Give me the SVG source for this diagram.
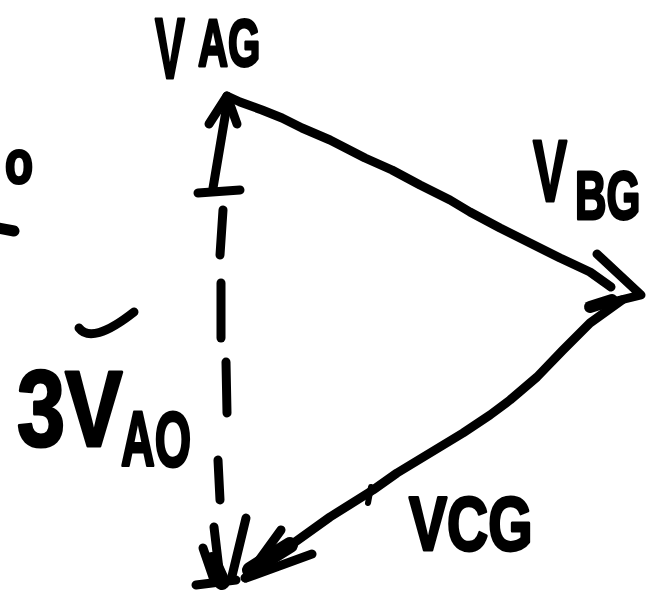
<svg xmlns="http://www.w3.org/2000/svg" width="660" height="597" viewBox="0 0 660 597">
<style>
.ln{fill:none;stroke:#000;stroke-width:9;stroke-linecap:round;stroke-linejoin:round}
.lb{font-family:"Liberation Sans",Arial,sans-serif;font-weight:bold;fill:#000;stroke:#000;stroke-width:3;stroke-linejoin:round}
</style>
<rect width="660" height="597" fill="#fff"/>
<g id="connectors">
  <g id="vAG-arrow">
    <path class="ln" d="M213,188 L228,99"/>
    <path class="ln" d="M209,124 L227,96 L237,124"/>
    <path class="ln" d="M198,193 L240,190"/>
  </g>
  <g id="vBG-arrow">
    <path class="ln" d="M227,96 L240,102 L262,110 L282,118 L302,128 L330,140 L365,158 L392,170 L420,185 L450,200 L470,212 L500,228 L530,243 L560,258 L590,272 L611,287"/>
    <path class="ln" d="M597,254 L641,295 L592,307"/>
    <path class="ln" d="M590,307 L612,300" style="stroke-width:12"/>
  </g>
  <g id="vCG-arrow">
    <path class="ln" d="M622,300 L590,323 L563,350 L537,377 L510,400 L490,415 L463,433 L430,453 L397,473 L373,490 L330,517 L245,578"/>
    <path class="ln" d="M371,487 L368,503" style="stroke-width:6"/>
    <path class="ln" d="M281,530 L246,578 L312,554"/>
    <path class="ln" d="M250,570 L290,545" style="stroke-width:16"/>
  </g>
  <g id="3vA0-arrow">
    <path class="ln" d="M223,210 L220,255"/>
    <path class="ln" d="M221,283 L221,338"/>
    <path class="ln" d="M226,362 L227,413"/>
    <path class="ln" d="M218,460 L220,500"/>
    <path class="ln" d="M214,527 L220,578"/>
    <path class="ln" d="M246,518 L232,576"/>
    <path class="ln" d="M203,548 L214,580"/>
    <path class="ln" d="M196,585 L236,580"/>
    <path class="ln" d="M212,560 L222,582" style="stroke-width:16"/>
  </g>
</g>
<g id="label-VAG">
  <text class="lb" transform="translate(155,78) scale(0.52,1)" font-size="86">V</text>
  <text class="lb" transform="translate(198,66) scale(0.63,1)" font-size="66">AG</text>
</g>
<g id="label-VBG">
  <text class="lb" transform="translate(533,201) scale(0.58,1)" font-size="88">V</text>
  <text class="lb" transform="translate(575,219) scale(0.64,1)" font-size="68">BG</text>
</g>
<g id="label-VCG">
  <text class="lb" transform="translate(409,550) scale(0.75,1)" font-size="76">VCG</text>
</g>
<g id="label-3VA0">
  <path class="ln" d="M79,328 Q92,345 134,312"/>
  <text class="lb" transform="translate(17,446) scale(0.8,1)" font-size="108">3V</text>
  <text class="lb" transform="translate(121,466) scale(0.6,1)" font-size="78">AO</text>
</g>
<g id="label-left">
  <text class="lb" transform="translate(5,183) scale(0.74,1)" font-size="62">o</text>
  <path class="ln" d="M-2,228 L14,231" style="stroke-width:11"/>
</g>
</svg>
